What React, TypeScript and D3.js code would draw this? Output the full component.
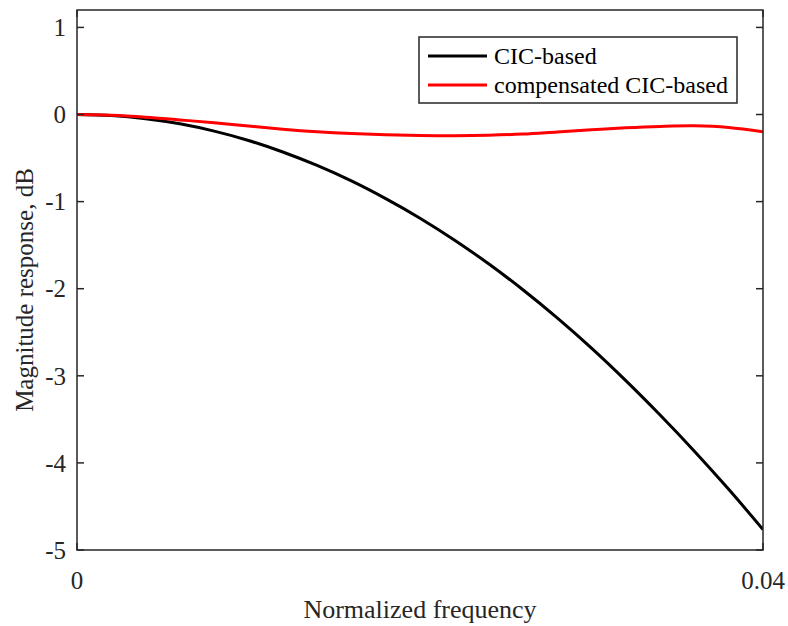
import React from "react";
import * as d3 from "d3";

const freq = [0, 0.002, 0.004, 0.006, 0.008, 0.01, 0.012, 0.014, 0.016, 0.018, 0.02, 0.022, 0.024, 0.026, 0.028, 0.03, 0.032, 0.034, 0.036, 0.038, 0.04];
const cicBased = [0, -0.012, -0.048, -0.107, -0.191, -0.298, -0.43, -0.585, -0.763, -0.966, -1.19, -1.44, -1.714, -2.012, -2.335, -2.682, -3.055, -3.45, -3.865, -4.303, -4.765];
const compensated = [0, -0.008, -0.03, -0.062, -0.095, -0.132, -0.168, -0.197, -0.218, -0.232, -0.24, -0.243, -0.238, -0.224, -0.2, -0.176, -0.153, -0.137, -0.13, -0.148, -0.197];
const yTicks = [-5, -4, -3, -2, -1, 0, 1];
const xTicks = [0, 0.04];
const xTickLabels = ["0", "0.04"];
const seriesNames = ["CIC-based", "compensated CIC-based"];
const seriesColors = ["#000000", "#ff0000"];

const W = 788;
const H = 626;
const L = 77, R = 763, T = 10, B = 550;
const FONT = '"Liberation Serif", "Times New Roman", serif';
const AX = "#262626";

export default function App() {
  const x = d3.scaleLinear().domain([0, 0.04]).range([L, R]);
  const y = d3.scaleLinear().domain([-5, 1.2]).range([B, T]);
  const line = d3
    .line<number>()
    .x((_, i) => x(freq[i]))
    .y((d) => y(d))
    .curve(d3.curveCatmullRom.alpha(0.5));
  const series = [cicBased, compensated];
  const tickLen = 7;

  return (
    <svg width={W} height={H} style={{ position: "absolute", left: 0, top: 0, background: "#fff" }} fontFamily={FONT}>
      <rect x={0} y={0} width={W} height={H} fill="#fff" />
      <defs>
        <clipPath id="plotclip">
          <rect x={L} y={T} width={R - L} height={B - T} />
        </clipPath>
      </defs>
      <g clipPath="url(#plotclip)">
        {series.map((s, i) => (
          <path key={i} d={line(s) || ""} fill="none" stroke={seriesColors[i]} strokeWidth={3} strokeLinejoin="round" />
        ))}
      </g>
      <rect x={L} y={T} width={R - L} height={B - T} fill="none" stroke={AX} strokeWidth={1.5} />
      {yTicks.map((t) => (
        <g key={t}>
          <line x1={L} x2={L + tickLen} y1={y(t)} y2={y(t)} stroke={AX} strokeWidth={1.5} />
          <line x1={R} x2={R - tickLen} y1={y(t)} y2={y(t)} stroke={AX} strokeWidth={1.5} />
          <text x={L - 11} y={y(t)} dy="0.35em" textAnchor="end" fontSize={25} fill={AX}>
            {t}
          </text>
        </g>
      ))}
      {xTicks.map((t, i) => (
        <g key={t}>
          <line x1={x(t)} x2={x(t)} y1={B} y2={B - tickLen} stroke={AX} strokeWidth={1.5} />
          <line x1={x(t)} x2={x(t)} y1={T} y2={T + tickLen} stroke={AX} strokeWidth={1.5} />
          <text x={x(t)} y={589} textAnchor="middle" fontSize={25} fill={AX}>
            {xTickLabels[i]}
          </text>
        </g>
      ))}
      <text x={(L + R) / 2} y={618} textAnchor="middle" fontSize={26} fill={AX}>
        Normalized frequency
      </text>
      <text transform={`translate(33, ${(T + B) / 2 + 10}) rotate(-90)`} textAnchor="middle" fontSize={25} fill={AX}>
        Magnitude response, dB
      </text>
      <rect x={419} y={37} width={318} height={66} fill="#fff" stroke={AX} strokeWidth={1.5} />
      {seriesNames.map((n, i) => (
        <g key={n}>
          <line x1={428} x2={487} y1={56 + i * 29} y2={56 + i * 29} stroke={seriesColors[i]} strokeWidth={3} />
          <text x={494} y={56 + i * 29} dy="0.35em" fontSize={24} fill="#000">
            {n}
          </text>
        </g>
      ))}
    </svg>
  );
}
